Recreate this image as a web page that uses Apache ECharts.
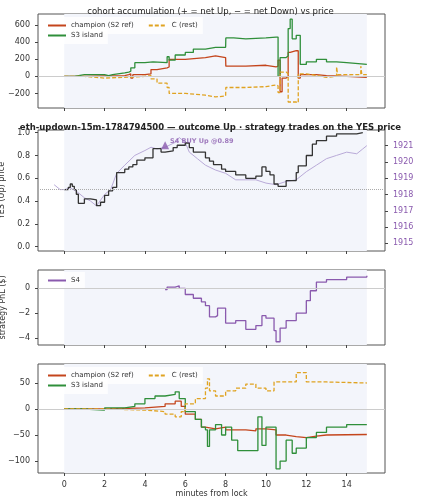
<!DOCTYPE html>
<html><head><meta charset="utf-8">
<script src="https://cdn.jsdelivr.net/npm/echarts@6/dist/echarts.min.js"></script>
<style>html,body{margin:0;padding:0;background:#fff}#c{width:421px;height:500px}</style>
</head><body><div id="c"></div>
<script>
// [minute, value] step data
var accChampion=[[0,0],[1,5],[2,10],[3,20],[3.2,30],[3.3,-20],[3.4,20],[4,30],[4.3,80],[4.6,100],[5.1,110],[5.2,200],[6,220],[7,240],[7.5,220],[8,220],[8.01,120],[9,130],[10,110],[10.5,120],[10.6,190],[10.7,-180],[10.8,-20],[11,0],[11.1,280],[11.2,300],[11.5,300],[11.6,-20],[11.7,20],[12,20],[12.5,10],[13,0],[14,-10],[15,-10]];
var accS3=[[0,0],[0.5,20],[1,20],[2,10],[2.2,20],[2.4,40],[3,50],[3.2,60],[3.3,100],[3.5,160],[4,170],[4.4,160],[5.1,230],[5.2,190],[5.5,250],[6,280],[6.4,320],[7,340],[7.5,340],[8,350],[8.01,450],[8.4,440],[9,450],[10,460],[10.5,460],[10.6,0],[10.7,220],[11,240],[11.1,560],[11.2,670],[11.3,440],[11.5,480],[11.6,480],[11.7,140],[12,170],[12.5,200],[13,170],[13.5,160],[14,140],[15,140]];
var accC=[[0,0],[1,-20],[2,-10],[3,0],[4,10],[4.3,-30],[4.6,-80],[5.1,-130],[5.2,-200],[6,-220],[7,-240],[7.5,-230],[8,-230],[8.01,-130],[9,-120],[10,-100],[10.5,-110],[10.6,-190],[10.7,50],[11,30],[11.1,-300],[11.5,-310],[11.6,30],[12,10],[12.5,-10],[13,0],[13.5,110],[13.55,20],[14,20],[14.7,120],[14.75,20],[15,20]];
var yesPrice=[[0,0.5],[0.2,0.52],[0.3,0.55],[0.4,0.53],[0.5,0.5],[0.6,0.46],[0.7,0.38],[1,0.42],[1.3,0.41],[1.6,0.36],[1.8,0.39],[2,0.45],[2.2,0.49],[2.4,0.52],[2.6,0.65],[3,0.68],[3.2,0.7],[3.4,0.72],[3.6,0.76],[4,0.78],[4.4,0.86],[4.8,0.83],[5,0.84],[5.4,0.87],[5.6,0.89],[6,0.91],[6.2,0.87],[6.4,0.83],[7,0.78],[7.2,0.75],[7.4,0.72],[7.8,0.68],[8,0.66],[8.5,0.63],[9,0.6],[9.5,0.62],[9.8,0.7],[10,0.66],[10.2,0.63],[10.4,0.55],[10.6,0.53],[11,0.58],[11.5,0.65],[11.6,0.71],[12,0.8],[12.3,0.9],[12.5,0.93],[13,0.97],[13.5,0.99],[14,0.99],[14.5,1.0],[14.8,1.0]];
var ethUsd=[[-0.5,1918.6],[-0.2,1918.3],[0,1918.3],[0.3,1918.4],[0.6,1918.2],[1,1917.8],[1.3,1917.6],[1.6,1917.3],[2,1918.0],[2.3,1918.3],[2.6,1919.3],[3,1919.8],[3.5,1920.4],[4,1920.7],[4.3,1920.9],[4.6,1920.8],[5,1920.9],[5.5,1921.2],[5.7,1921.5],[6,1921.2],[6.2,1920.6],[6.6,1920.2],[7,1919.8],[7.5,1919.5],[8,1919.3],[8.5,1918.9],[9,1918.9],[9.5,1918.9],[10,1918.7],[10.5,1918.6],[11,1918.8],[11.5,1918.9],[12,1919.4],[12.5,1919.8],[13,1920.2],[13.5,1920.4],[14,1920.6],[14.5,1920.5],[14.8,1920.8],[15,1921.0]];
var buyTrade=[[5.0,0.89]];
var pnlS4=[[5.0,-0.1],[5.1,0.1],[5.5,0.2],[5.7,0],[6,-0.5],[6.4,-0.8],[6.8,-1.1],[7,-1.4],[7.2,-2.3],[7.5,-2.2],[7.6,-1.6],[8,-2.8],[8.5,-2.6],[9,-3.3],[9.5,-3],[9.8,-2.2],[10,-2.4],[10.4,-3.4],[10.5,-4.3],[10.7,-3.2],[11,-2.6],[11.5,-2.0],[12,-1.0],[12.2,-0.2],[12.5,0.5],[13,0.7],[14,0.9],[15,1.0]];
var pnlChampion=[[0,0],[2,2],[4,5],[5,10],[5.5,15],[5.8,5],[6,-10],[6.5,-20],[6.8,-35],[7,-38],[7.5,-35],[8,-40],[9,-42],[9.5,-38],[10,-40],[10.5,-50],[11,-53],[11.5,-55],[12,-52],[12.5,-50],[13,-49],[15,-49]];
var pnlS3=[[0,0],[1,-2],[2,2],[3,5],[3.5,10],[4,20],[4.5,25],[5,28],[5.5,33],[5.7,20],[6,-5],[6.5,-20],[6.8,-35],[7,-40],[7.1,-72],[7.2,-40],[7.5,-30],[7.8,-50],[8,-35],[8.3,-60],[8.6,-80],[9,-80],[9.3,-80],[9.6,-15],[9.8,-70],[10,-35],[10.5,-115],[10.7,-100],[11,-60],[11.3,-85],[11.5,-75],[12,-55],[12.5,-45],[13,-35],[14,-30],[15,-29]];
var pnlC=[[0,0],[2,-2],[4,-5],[5,-10],[5.5,-15],[5.8,-5],[6,10],[6.5,20],[7,40],[7.1,58],[7.2,35],[7.5,25],[8,35],[8.5,40],[9,48],[9.5,40],[10,35],[10.4,52],[11,52],[11.5,70],[12,52],[13,50],[15,49]];
var xTicks=[0,2,4,6,8,10,12,14];

var RED='#c4451c',GREEN='#2f8f3a',ORANGE='#e0a321',PURPLE='#8a5aae',FONT='DejaVu Sans';
var chart=echarts.init(document.getElementById('c'),null,{renderer:'canvas'});
var grids=[[14,108],[130,251],[270,345],[364,473]];
function grid(g){return {left:38,right:36,top:g[0],height:g[1]-g[0],show:true,backgroundColor:'#fff',borderColor:'#555',borderWidth:1,containLabel:false,outerBoundsMode:'none'};}
function xAx(i,labels){return {type:'value',gridIndex:i,min:-1.3,max:15.9,
  axisLine:{show:false,onZero:false},axisTick:{show:true,customValues:xTicks,length:3,lineStyle:{color:'#444'}},
  axisLabel:{show:labels,customValues:xTicks,fontSize:8,color:'#333',fontFamily:FONT},
  splitLine:{show:false},name:labels?'minutes from lock':'',nameLocation:'middle',nameGap:16,nameTextStyle:{fontSize:8,color:'#333',fontFamily:FONT}};}
function yAx(i,min,max,ticks,name,fmt){return {type:'value',gridIndex:i,min:min,max:max,
  axisLine:{show:false,onZero:false},axisTick:{show:true,customValues:ticks,length:3,lineStyle:{color:'#444'}},
  axisLabel:{customValues:ticks,fontSize:8,color:'#333',fontFamily:FONT,formatter:fmt||function(v){return String(v).replace('-','\u2212');}},
  splitLine:{show:false},name:name,nameLocation:'middle',nameGap:fmt?22:26,nameRotate:90,nameTextStyle:{fontSize:8,color:'#333',fontFamily:FONT}};}
function line(name,data,xi,yi,color,dash){return {name:name,type:'line',step:'end',data:data,xAxisIndex:xi,yAxisIndex:yi,showSymbol:false,symbol:'none',
  lineStyle:{color:color,width:1.3,type:dash?[4,2]:'solid'},itemStyle:{color:color},z:3};}
function shade(xi,yi,zero){var s={type:'line',data:[[0,null]],xAxisIndex:xi,yAxisIndex:yi,silent:true,symbol:'none',
  markArea:{silent:true,itemStyle:{color:'#f3f5fb'},data:[[{xAxis:0},{xAxis:15}]]}};
  if(zero!==undefined)s.markLine={silent:true,symbol:'none',label:{show:false},lineStyle:{color:'#ccc',width:1,type:'solid'},data:[{yAxis:zero}]};
  return s;}
var leg={textStyle:{fontSize:7,color:'#333',fontFamily:FONT},itemWidth:18,itemHeight:6,itemGap:14,orient:'horizontal',itemStyle:{opacity:0},backgroundColor:'rgba(255,255,255,0.8)'};
function L(o){var r={};for(var k in leg)r[k]=leg[k];for(var k2 in o)r[k2]=o[k2];return r;}
var fmt2=function(v){return v.toFixed(1);};
var eth=[1915,1916,1917,1918,1919,1920,1921,1922];
chart.setOption({
  animation:false,
  title:[{text:'cohort accumulation (+ = net Up, \u2212 = net Down) vs price',left:'center',top:2,textStyle:{fontSize:8.5,fontWeight:'normal',color:'#222',fontFamily:FONT}},
         {text:'eth-updown-15m-1784794500 \u2014 outcome Up \u00b7 strategy trades on the YES price',left:'center',top:118,textStyle:{fontSize:8.5,fontWeight:'bold',color:'#222',fontFamily:FONT}}],
  legend:[L({left:42,top:17,data:['champion (S2 ref)','C (rest)']}),L({left:42,top:27,data:['S3 island']}),
          L({left:42,top:272,data:['S4']}),
          L({left:42,top:367,data:['champion (S2 ref)','C (rest)']}),L({left:42,top:377,data:['S3 island']})],
  grid:grids.map(grid),
  xAxis:[xAx(0,false),xAx(1,false),xAx(2,false),xAx(3,true)],
  yAxis:[yAx(0,-370,730,[-200,0,200,400,600],'acc. net YES (shares)'),
         yAx(1,-0.038,1.024,[0,0.2,0.4,0.6,0.8,1.0],'YES (Up) price',fmt2),
         {type:'value',gridIndex:1,position:'right',min:1914.53,max:1921.96,axisLine:{show:false,onZero:false},
          axisTick:{show:true,customValues:eth,length:3,lineStyle:{color:'#444'}},
          axisLabel:{customValues:eth,fontSize:8,color:PURPLE,fontFamily:FONT,formatter:function(v){return String(v);}},splitLine:{show:false},
          name:'ETH/USD (strike dotted = YES 0.5)',nameLocation:'middle',nameGap:26,nameRotate:90,nameTextStyle:{fontSize:7,color:PURPLE,fontFamily:FONT}},
         yAx(2,-4.56,1.47,[-4,-2,0],'strategy PnL ($)'),
         yAx(3,-123,86.5,[-100,-50,0,50],'cohort moving PnL ($)')],
  series:[
    shade(0,0,0),
    line('champion (S2 ref)',accChampion,0,0,RED,false),
    line('S3 island',accS3,0,0,GREEN,false),
    line('C (rest)',accC,0,0,ORANGE,true),
    shade(1,1),
    {type:'line',data:[[0,null]],xAxisIndex:1,yAxisIndex:1,silent:true,symbol:'none',markLine:{silent:true,symbol:'none',label:{show:false},lineStyle:{color:'#aaa',width:1,type:'dotted'},data:[{yAxis:0.5}]}},
    {name:'ETH',type:'line',data:ethUsd,xAxisIndex:1,yAxisIndex:2,showSymbol:false,symbol:'none',lineStyle:{color:'#b9aad8',width:1},z:2},
    line('YES',yesPrice,1,1,'#333',false),
    {name:'trade',type:'scatter',data:buyTrade,xAxisIndex:1,yAxisIndex:1,symbol:'triangle',symbolSize:8,itemStyle:{color:PURPLE},z:5,
     label:{show:true,position:'right',distance:1,offset:[0,-4],formatter:'S4 BUY Up @0.89',fontSize:6.5,fontWeight:'bold',color:PURPLE,fontFamily:FONT}},
    shade(2,3,0),
    line('S4',pnlS4,2,3,PURPLE,false),
    shade(3,4,0),
    line('champion (S2 ref)',pnlChampion,3,4,RED,false),
    line('S3 island',pnlS3,3,4,GREEN,false),
    line('C (rest)',pnlC,3,4,ORANGE,true)
  ]
});
</script></body></html>
